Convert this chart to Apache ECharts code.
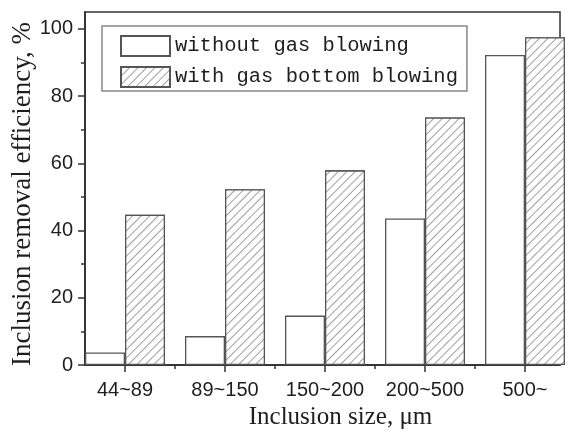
<!DOCTYPE html>
<html>
<head>
<meta charset="utf-8">
<script src="https://cdn.jsdelivr.net/npm/echarts@6/dist/echarts.min.js"></script>
<style>
    html, body { margin: 0; background: #fff; }
    #chart { width: 565px; height: 430px; }
</style>
</head>
<body>
<div id="chart"></div>
<script>
// inclusion size classes, µm
const categories = ['44~89', '89~150', '150~200', '200~500', '500~'];
// removal efficiency, %
const withoutGas = [3.7, 8.6, 14.7, 43.6, 92.2];
const withGas = [44.7, 52.3, 57.9, 73.6, 97.5];
const yTicks = [0, 20, 40, 60, 80, 100];
const yMinorTicks = [10, 30, 50, 70, 90];

const catIdx = categories.map((c, i) => i);
const catBounds = categories.slice(1).map((c, i) => i + 0.5);

const axisColor = '#333';
const textColor = '#1e1e1e';

const chart = echarts.init(document.getElementById('chart'));

const xBase = {
    type: 'value',
    min: -0.4,
    max: 4.35,
    splitLine: { show: false },
    axisLine: { onZero: false, lineStyle: { color: axisColor, width: 1.5 } }
};
const yBase = {
    type: 'value',
    min: 0,
    max: 105,
    splitLine: { show: false },
    axisLine: { show: true, onZero: false, lineStyle: { color: axisColor, width: 1.5 } }
};

chart.setOption({
    animation: false,
    backgroundColor: '#fff',
    grid: {
        left: 85,
        right: 5,
        top: 12,
        bottom: 65,
        outerBoundsMode: 'none',
        show: true,
        borderColor: axisColor,
        borderWidth: 1.5,
        backgroundColor: 'transparent'
    },
    legend: {
        orient: 'vertical',
        left: 102,
        top: 26,
        itemWidth: 49,
        itemHeight: 20,
        itemGap: 9,
        padding: [9, 9, 3, 18],
        borderColor: '#888',
        borderWidth: 1.5,
        icon: 'rect',
        textStyle: { fontFamily: 'Liberation Mono', fontSize: 20.5, color: textColor },
        data: ['without gas blowing', 'with gas bottom blowing']
    },
    xAxis: [
        Object.assign({}, xBase, {
            name: 'Inclusion size, \u03bcm',
            nameLocation: 'middle',
            nameGap: 31,
            nameTextStyle: {
                fontFamily: 'Liberation Serif', fontSize: 25, color: textColor,
                padding: [0, 0, 0, 36]
            },
            axisTick: { customValues: catIdx, length: 7, lineStyle: { color: axisColor, width: 1.5 } },
            axisLabel: {
                customValues: catIdx,
                formatter: v => categories[Math.round(v)],
                margin: 15,
                fontFamily: 'Liberation Sans',
                fontSize: 20,
                color: textColor
            }
        }),
        Object.assign({}, xBase, {
            position: 'bottom',
            axisTick: { customValues: catBounds, length: 4, lineStyle: { color: axisColor, width: 1.5 } },
            axisLabel: { show: false }
        })
    ],
    yAxis: [
        Object.assign({}, yBase, {
            name: 'Inclusion removal efficiency, %',
            nameLocation: 'middle',
            nameGap: 49,
            nameMoveOverlap: false,
            nameTextStyle: {
                fontFamily: 'Liberation Serif', fontSize: 27, color: textColor,
                padding: [0, 11, 0, 0]
            },
            axisTick: { customValues: yTicks, length: 7, lineStyle: { color: axisColor, width: 1.5 } },
            axisLabel: {
                customValues: yTicks,
                margin: 12,
                fontFamily: 'Liberation Sans',
                fontSize: 20,
                color: textColor
            }
        }),
        Object.assign({}, yBase, {
            position: 'left',
            offset: 0,
            axisTick: { customValues: yMinorTicks, length: 4, lineStyle: { color: axisColor, width: 1.5 } },
            axisLabel: { show: false }
        })
    ],
    series: [
        {
            name: 'without gas blowing',
            type: 'bar',
            xAxisIndex: 0,
            yAxisIndex: 0,
            barWidth: 40,
            barGap: '0%',
            clip: false,
            itemStyle: { color: '#fff', borderColor: '#555', borderWidth: 1.3 },
            data: withoutGas.map((v, i) => [i, v])
        },
        {
            name: 'with gas bottom blowing',
            type: 'bar',
            xAxisIndex: 0,
            yAxisIndex: 0,
            barWidth: 40,
            barGap: '0%',
            clip: false,
            itemStyle: {
                color: '#fff',
                borderColor: '#555',
                borderWidth: 1.3,
                decal: {
                    symbol: 'rect',
                    symbolSize: 1,
                    dashArrayX: [1, 0],
                    dashArrayY: [1, 4.5],
                    rotation: -Math.PI / 4,
                    color: '#a0a0a0',
                    backgroundColor: '#fff'
                }
            },
            data: withGas.map((v, i) => [i, v])
        }
    ]
});
</script>
</body>
</html>
